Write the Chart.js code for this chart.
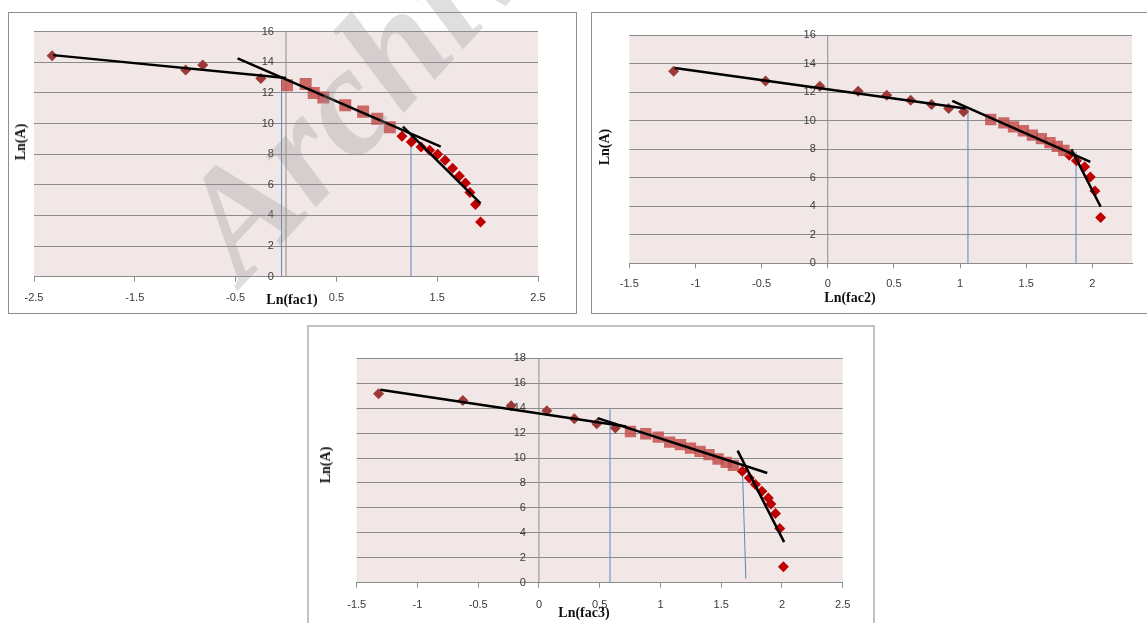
<!DOCTYPE html>
<html>
<head>
<meta charset="utf-8">
<script src="https://cdn.jsdelivr.net/npm/chart.js@4"></script>
<style>
body{margin:0;background:#fff;width:1147px;height:623px;overflow:hidden;position:relative;}
.box{position:absolute;border:1px solid #8f8f8f;background:#fff;}
canvas{position:absolute;}
.ttl{position:absolute;font-family:"Liberation Serif",serif;font-weight:bold;font-size:14px;white-space:nowrap;color:#111;}
.ytl{transform:translate(-50%,-50%) rotate(-90deg);}
.xtl{transform:translate(-50%,-50%);}
.wm{position:absolute;left:262px;top:148px;height:155px;line-height:155px;font-family:"Liberation Serif",serif;font-weight:bold;font-style:italic;font-size:155px;color:rgba(150,150,150,0.3);white-space:nowrap;transform-origin:left bottom;transform:rotate(-47deg);pointer-events:none;}
</style>
</head>
<body>
<div class="box" style="left:8px;top:12px;width:567px;height:300px;"></div>
<div class="box" style="left:591px;top:12px;width:600px;height:300px;"></div>
<div class="box" style="left:307px;top:325px;width:564px;height:310px;border:2px solid #c2c2c2;"></div>

<canvas id="chart1" width="567" height="300" style="left:9px;top:13px;"></canvas>
<canvas id="chart2" width="555" height="300" style="left:592px;top:13px;"></canvas>
<canvas id="chart3" width="564" height="296" style="left:309px;top:327px;"></canvas>

<div class="ttl ytl" style="left:21px;top:142px;">Ln(A)</div>
<div class="ttl xtl" style="left:292px;top:300px;">Ln(fac1)</div>
<div class="ttl ytl" style="left:605px;top:147px;">Ln(A)</div>
<div class="ttl xtl" style="left:850px;top:298px;">Ln(fac2)</div>
<div class="ttl ytl" style="left:326px;top:465px;">Ln(A)</div>
<div class="ttl xtl" style="left:584px;top:613px;">Ln(fac3)</div>

<div class="wm">Archive of SID</div>

<script>
// ---- chart 1 : Ln(fac1)
const c1DarkX = [-2.32, -0.995, -0.826, -0.25];
const c1DarkY = [14.43, 13.5, 13.82, 12.95];
const c1SqX = [0.01, 0.195, 0.275, 0.37, 0.588, 0.765, 0.905, 1.03];
const c1SqY = [12.5, 12.59, 11.99, 11.71, 11.2, 10.78, 10.32, 9.76];
const c1RedX = [1.15, 1.243, 1.34, 1.425, 1.505, 1.578, 1.653, 1.72, 1.78, 1.825, 1.88, 1.93];
const c1RedY = [9.17, 8.8, 8.47, 8.25, 7.99, 7.6, 7.08, 6.58, 6.12, 5.5, 4.71, 3.57];
const c1Fit1X = [-2.31, 0.0], c1Fit1Y = [14.47, 12.97];
const c1Fit2X = [-0.48, 1.535], c1Fit2Y = [14.26, 8.49];
const c1Fit3X = [1.16, 1.93], c1Fit3Y = [9.8, 4.79];
const c1Blue1X = [-0.044, -0.044], c1Blue1Y = [0, 13.06];
const c1Blue2X = [1.24, 1.24], c1Blue2Y = [0, 9.19];

// ---- chart 2 : Ln(fac2)
const c2DarkX = [-1.165, -0.47, -0.06, 0.23, 0.446, 0.627, 0.785, 0.914, 1.027];
const c2DarkY = [13.48, 12.8, 12.43, 12.08, 11.8, 11.45, 11.14, 10.86, 10.63];
const c2SqX = [1.232, 1.331, 1.404, 1.479, 1.547, 1.615, 1.68, 1.735, 1.785];
const c2SqY = [10.09, 9.86, 9.58, 9.3, 8.99, 8.75, 8.47, 8.2, 7.92];
const c2RedX = [1.825, 1.88, 1.942, 1.985, 2.02, 2.063];
const c2RedY = [7.58, 7.2, 6.78, 6.05, 5.08, 3.22];
const c2Fit1X = [-1.157, 1.044], c2Fit1Y = [13.71, 10.86];
const c2Fit2X = [0.941, 1.985], c2Fit2Y = [11.4, 7.12];
const c2Fit3X = [1.842, 2.063], c2Fit3Y = [7.99, 3.97];
const c2Blue1X = [1.06, 1.06], c2Blue1Y = [0, 10.98];
const c2Blue2X = [1.877, 1.877], c2Blue2Y = [0, 7.83];

// ---- chart 3 : Ln(fac3)
const c3DarkX = [-1.32, -0.626, -0.229, 0.065, 0.291, 0.476, 0.629];
const c3DarkY = [15.15, 14.61, 14.19, 13.79, 13.15, 12.75, 12.4];
const c3SqX = [0.753, 0.879, 0.982, 1.076, 1.165, 1.247, 1.326, 1.4, 1.474, 1.541, 1.6];
const c3SqY = [12.13, 11.95, 11.68, 11.28, 11.07, 10.8, 10.53, 10.27, 9.92, 9.65, 9.41];
const c3RedX = [1.674, 1.732, 1.782, 1.835, 1.888, 1.909, 1.947, 1.982, 2.012];
const c3RedY = [8.93, 8.4, 7.87, 7.33, 6.8, 6.32, 5.55, 4.35, 1.28];
const c3Fit1X = [-1.306, 0.718], c3Fit1Y = [15.47, 12.53];
const c3Fit2X = [0.482, 1.879], c3Fit2Y = [13.2, 8.8];
const c3Fit3X = [1.635, 2.018], c3Fit3Y = [10.59, 3.25];
const c3Blue1X = [0.585, 0.585], c3Blue1Y = [0, 13.92];
const c3Blue2X = [1.703, 1.674], c3Blue2Y = [0.32, 9.33];

const darkRed = '#9b3a37';
const sqRed = 'rgba(192,72,70,0.8)';
const brightRed = '#c00000';
const gridGray = '#8c8c8c';
const blue = '#5b87c5';
const tickFont = {family: 'Liberation Sans', size: 11};

const plotBg = {
    id: 'plotBg',
    beforeDraw: function (chart) {
        const a = chart.chartArea;
        const ctx = chart.ctx;
        ctx.save();
        ctx.fillStyle = '#f2e7e7';
        ctx.fillRect(a.left, a.top, a.right - a.left, a.bottom - a.top);
        ctx.restore();
    }
};

function pts(xs, ys) {
    return xs.map((x, i) => ({x: x, y: ys[i]}));
}

function marks(xs, ys, color, style, r) {
    return {
        data: pts(xs, ys), pointStyle: style, pointRadius: r,
        pointBackgroundColor: color, pointBorderColor: color, pointBorderWidth: 0,
        showLine: false, order: 2
    };
}

function seg(xs, ys, color, w, order) {
    return {
        data: pts(xs, ys), showLine: true, borderColor: color, borderWidth: w,
        pointRadius: 0, order: order
    };
}

function makeChart(id, opt) {
    // the value axis line itself sits at x = 0; labels hang a little left of it
    const axisLine = seg([0, 0], [0, opt.yMax], gridGray, 1, 5);
    return new Chart(document.getElementById(id), {
        type: 'scatter',
        data: {datasets: opt.datasets.concat([axisLine])},
        plugins: [plotBg],
        options: {
            responsive: false,
            animation: false,
            events: [],
            layout: {padding: opt.pad},
            plugins: {legend: {display: false}, tooltip: {enabled: false}},
            scales: {
                x: {
                    type: 'linear', position: 'bottom', min: opt.xMin, max: opt.xMax,
                    ticks: {stepSize: opt.xStep, includeBounds: false, padding: opt.xPad, font: tickFont, color: '#3a3a3a',
                        callback: v => String(+v.toFixed(2))},
                    grid: {drawOnChartArea: false, drawTicks: true, tickLength: 5, color: gridGray},
                    border: {color: gridGray},
                    afterFit: function (s) { s.height = 30; }
                },
                y: {
                    type: 'linear', position: {x: opt.yLabelAt}, min: 0, max: opt.yMax,
                    ticks: {stepSize: 2, font: tickFont, color: '#3a3a3a',
                        callback: v => String(v)},
                    grid: {color: gridGray, drawTicks: false},
                    border: {display: false}
                }
            }
        }
    });
}

makeChart('chart1', {
    pad: {left: 25, top: 18.7, right: 38, bottom: 6.3},
    xMin: -2.5, xMax: 2.5, xStep: 1, xPad: 10, yMax: 16, yLabelAt: -0.12,
    datasets: [
        seg(c1Fit1X, c1Fit1Y, '#000', 2.5, 0),
        seg(c1Fit2X, c1Fit2Y, '#000', 2.5, 0),
        seg(c1Fit3X, c1Fit3Y, '#000', 2.5, 0),
        seg(c1Blue1X, c1Blue1Y, blue, 1, 3),
        seg(c1Blue2X, c1Blue2Y, blue, 1, 3),
        marks(c1DarkX, c1DarkY, darkRed, 'rectRot', 5.5),
        marks(c1SqX, c1SqY, sqRed, 'rect', 8.5),
        marks(c1RedX, c1RedY, brightRed, 'rectRot', 5.5)
    ]
});

makeChart('chart2', {
    pad: {left: 37.3, top: 22.3, right: 15, bottom: 19.7},
    xMin: -1.5, xMax: 2.3, xStep: 0.5, xPad: 9, yMax: 16, yLabelAt: -0.09,
    datasets: [
        seg(c2Fit1X, c2Fit1Y, '#000', 2.5, 0),
        seg(c2Fit2X, c2Fit2Y, '#000', 2.5, 0),
        seg(c2Fit3X, c2Fit3Y, '#000', 2.5, 0),
        seg(c2Blue1X, c2Blue1Y, blue, 1, 3),
        seg(c2Blue2X, c2Blue2Y, blue, 1, 3),
        marks(c2DarkX, c2DarkY, darkRed, 'rectRot', 5.5),
        marks(c2SqX, c2SqY, sqRed, 'rect', 8),
        marks(c2RedX, c2RedY, brightRed, 'rectRot', 5.5)
    ]
});

makeChart('chart3', {
    pad: {left: 47.7, top: 31.3, right: 30.3, bottom: 10.3},
    xMin: -1.5, xMax: 2.5, xStep: 0.5, xPad: 11, yMax: 18, yLabelAt: -0.107,
    datasets: [
        seg(c3Fit1X, c3Fit1Y, '#000', 2.5, 0),
        seg(c3Fit2X, c3Fit2Y, '#000', 2.5, 0),
        seg(c3Fit3X, c3Fit3Y, '#000', 2.5, 0),
        seg(c3Blue1X, c3Blue1Y, blue, 1, 3),
        seg(c3Blue2X, c3Blue2Y, blue, 1, 3),
        marks(c3DarkX, c3DarkY, darkRed, 'rectRot', 5.5),
        marks(c3SqX, c3SqY, sqRed, 'rect', 8),
        marks(c3RedX, c3RedY, brightRed, 'rectRot', 5.5)
    ]
});
</script>
</body>
</html>
